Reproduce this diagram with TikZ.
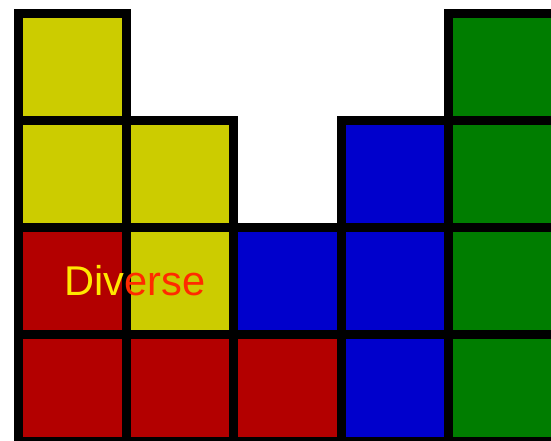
\documentclass[tikz,border=0pt]{standalone}
\usepackage{fontspec}
\setmainfont{Liberation Sans}
\usetikzlibrary{positioning}
\definecolor{cRed}{HTML}{B30000}
\definecolor{cYel}{HTML}{CCCC00}
\definecolor{cBlue}{HTML}{0000CC}
\definecolor{cGreen}{HTML}{007D00}
\definecolor{tYel}{HTML}{FFE800}
\definecolor{tRed}{HTML}{FF2A00}
\tikzset{
  cell/.style={minimum width=2cm, minimum height=1.987cm, inner sep=0pt, outer sep=0pt},
  edge/.style={draw=black, line width=4.8pt},
  lbl/.style={font=\fontsize{22}{26}\selectfont, inner sep=0pt},
}

\begin{document}
\begin{tikzpicture}
    \useasboundingbox (-0.344,0.028) rectangle (9.898,8.207);
    % --- cells: column/row/colour ---
    \foreach \i/\j/\col in {0/0/cRed, 1/0/cRed, 2/0/cRed, 3/0/cBlue, 4/0/cGreen,
      0/1/cRed, 1/1/cYel, 2/1/cBlue, 3/1/cBlue, 4/1/cGreen,
      0/2/cYel, 1/2/cYel, 3/2/cBlue, 4/2/cGreen,
      0/3/cYel, 4/3/cGreen}
      \node[cell, fill=\col] (c\i\j) at (2*\i+1, 1.987*\j+0.9935) {};
    % --- borders ---
    \foreach \i/\j in {0/0, 1/0, 2/0, 3/0, 4/0, 0/1, 1/1, 2/1, 3/1, 4/1,
      0/2, 1/2, 3/2, 4/2, 0/3, 4/3}
      \draw[edge] (c\i\j.south west) rectangle (c\i\j.north east);
    % --- label ---
    \node[lbl, anchor=base] (word) at (2.166,2.723)
      {{\color{tYel}Div}{\color{tRed}erse}};
\end{tikzpicture}
\end{document}
